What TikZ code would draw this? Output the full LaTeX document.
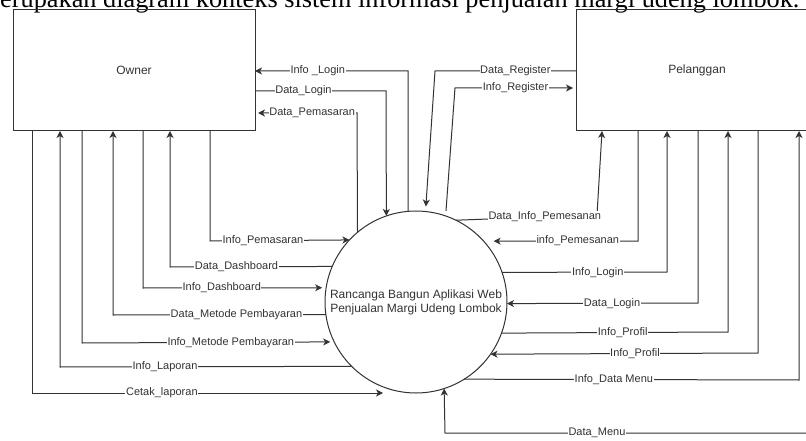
\documentclass[tikz,border=0pt]{standalone}
\usepackage{fontspec}
\setmainfont{Liberation Sans}
\newfontfamily\capfont{Liberation Serif}
\usetikzlibrary{arrows.meta}
\definecolor{ln}{HTML}{333333}
\definecolor{tx}{HTML}{333333}
\tikzset{
 ent/.style={draw=ln, line width=1pt, minimum width=242pt, minimum height=121pt, inner sep=0pt, outer sep=0pt, font=\fontsize{12}{14}\selectfont, text=tx},
 proc/.style={draw=ln, line width=1pt, circle, minimum size=182pt, inner sep=0pt, outer sep=0pt, align=center, font=\fontsize{12}{14}\selectfont, text=tx},
 flow/.style={draw=ln, line width=1pt},
 arr/.style={flow, -{Stealth[length=7pt,width=7pt,inset=2pt]}},
 lbl/.style={fill=white, inner sep=0.6pt, font=\fontsize{11}{13}\selectfont, text=tx},
}
\begin{document}
\begin{tikzpicture}[x=1pt,y=-1pt]
\useasboundingbox (0,0) rectangle (806,441);
\clip (0,0) rectangle (806,441);
\fill[white] (0,0) rectangle (806,441);
\node[anchor=base west, inner sep=0pt, font={\capfont\fontsize{26.3}{30}\selectfont}] (cap) at (0,8) {erupakan diagram konteks sistem informasi penjualan margi udeng lombok.};

\node[ent] (owner) at (134,70.5) {Owner};
\node[ent] (pel) at (697,70.5) {Pelanggan};
\node[proc] (c) at (416,302) {Rancanga Bangun Aplikasi Web\\Penjualan Margi Udeng Lombok};

% corner coordinates
\coordinate (k1) at (408,71);
\coordinate (k2) at (386,91);
\coordinate (k3) at (357,113);
\coordinate (k4) at (210,241);
\coordinate (k5) at (170,267);
\coordinate (k6) at (143,288);
\coordinate (k7) at (113,315);
\coordinate (k8) at (82,343);
\coordinate (k9) at (60,367);
\coordinate (k10) at (32,393);
\coordinate (cend) at (383,393);
\coordinate (r1) at (435,71);
\coordinate (r2) at (455,88);
\coordinate (r3) at (597,215);
\coordinate (r3b) at (602,131);
\coordinate (p1) at (638,241);
\coordinate (p2) at (667,272);
\coordinate (p3) at (698,303);
\coordinate (p4) at (728,332);
\coordinate (p5) at (758,353);
\coordinate (p6) at (799,380);
\coordinate (p7) at (812,433);
\coordinate (p8) at (445,433);

% Owner flows
\draw[arr] (c.95) -- (k1) -- node[lbl,pos=0.59]{Info \_Login} (owner.east |- k1);
\draw[arr] (owner.east |- k2) -- node[lbl,pos=0.37]{Data\_Login} (k2) -- (c.109.2);
\draw[arr, shorten >=3pt] (c.130.4) -- (k3) -- node[lbl,pos=0.44]{Data\_Pemasaran} (owner.east |- k3);
\draw[arr] (owner.south -| k4) -- (k4) -- node[lbl,pos=0.38]{Info\_Pemasaran} (c.137.9);
\draw[arr] (c.157.4) -- node[lbl,pos=0.59]{Data\_Dashboard} (k5) -- (owner.south -| k5);
\draw[arr, shorten >=4pt] (owner.south -| k6) -- (k6) -- node[lbl,pos=0.43]{Info\_Dashboard} (c.171.2);
\draw[arr] (c.188.2) -- node[lbl,pos=0.42]{Data\_Metode Pembayaran} (k7) -- (owner.south -| k7);
\draw[arr, shorten >=4pt] (owner.south -| k8) -- (k8) -- node[lbl,pos=0.59]{Info\_Metode Pembayaran} (c.206.8);
\draw[arr] (c.225.6) -- node[lbl,pos=0.64]{Info\_Laporan} (k9) -- (owner.south -| k9);
\draw[arr] (owner.south -| k10) -- (k10) -- node[lbl,pos=0.37]{Cetak\_laporan} (cend);

% Pelanggan flows
\draw[arr, shorten >=5pt] (pel.west |- r1) -- node[lbl,pos=0.43]{Data\_Register} (r1) -- (c.84.3);
\draw[arr, shorten <=5pt, shorten >=3pt] (c.71.4) -- (r2) -- node[lbl,pos=0.5]{Info\_Register} (pel.west |- r2);
\draw[arr] (c.64.6) -- node[lbl,pos=0.63]{Data\_Info\_Pemesanan} (r3) -- (pel.south -| r3b);
\draw[arr, shorten >=10pt] (pel.south -| p1) -- (p1) -- node[lbl,pos=0.39]{info\_Pemesanan} (c.42.1);
\draw[arr] (c.19.25) -- node[lbl,pos=0.58]{Info\_Login} (p2) -- (pel.south -| p2);
\draw[arr] (pel.south -| p3) -- (p3) -- node[lbl,pos=0.45]{Data\_Login} (c.359.4);
\draw[arr] (c.340.75) -- node[lbl,pos=0.535]{Info\_Profil} (p4) -- (pel.south -| p4);
\draw[arr] (pel.south -| p5) -- (p5) -- node[lbl,pos=0.46]{Info\_Profil} (c.325.9);
\draw[arr] (c.302.2) -- node[lbl,pos=0.447]{Info\_Data Menu} (p6) -- (pel.south -| p6);
\draw[arr] (pel.south -| p7) -- (p7) -- node[lbl,pos=0.586]{Data\_Menu} (p8) -- (c.288.6);
\end{tikzpicture}
\end{document}
